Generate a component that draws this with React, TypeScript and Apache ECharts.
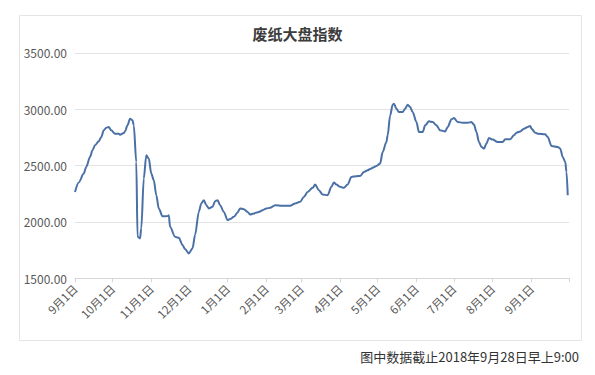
import { useEffect, useRef } from 'react';
import * as echarts from 'echarts';

const titleText = '废纸大盘指数';
const footNote = '图中数据截止2018年9月28日早上9:00';

const yTicks = [1500, 2000, 2500, 3000, 3500];

const monthTicks = [
  '2017-09-01', '2017-10-01', '2017-11-01', '2017-12-01', '2018-01-01', '2018-02-01', '2018-03-01',
  '2018-04-01', '2018-05-01', '2018-06-01', '2018-07-01', '2018-08-01', '2018-09-01', '2018-10-01',
];
const monthLabels = [
  '9月1日', '10月1日', '11月1日', '12月1日', '1月1日', '2月1日', '3月1日',
  '4月1日', '5月1日', '6月1日', '7月1日', '8月1日', '9月1日',
];

const dates = [
  '2017-09-01', '2017-09-04', '2017-09-08', '2017-09-10', '2017-09-13', '2017-09-15', '2017-09-17',
  '2017-09-20', '2017-09-22', '2017-09-24', '2017-09-26', '2017-09-28', '2017-09-30', '2017-10-03',
  '2017-10-06', '2017-10-07', '2017-10-10', '2017-10-11', '2017-10-13', '2017-10-15', '2017-10-17',
  '2017-10-18', '2017-10-20', '2017-10-21', '2017-10-23', '2017-10-24', '2017-10-26', '2017-10-28',
  '2017-10-30', '2017-11-01', '2017-11-03', '2017-11-05', '2017-11-07', '2017-11-10', '2017-11-14',
  '2017-11-15', '2017-11-16', '2017-11-20', '2017-11-23', '2017-11-26', '2017-11-28', '2017-12-01',
  '2017-12-04', '2017-12-06', '2017-12-09', '2017-12-11', '2017-12-13', '2017-12-15', '2017-12-17',
  '2017-12-20', '2017-12-22', '2017-12-24', '2017-12-26', '2017-12-29', '2018-01-01', '2018-01-03',
  '2018-01-06', '2018-01-09', '2018-01-11', '2018-01-14', '2018-01-17', '2018-01-19', '2018-01-22',
  '2018-01-26', '2018-01-29', '2018-02-01', '2018-02-04', '2018-02-08', '2018-02-14', '2018-02-20',
  '2018-02-24', '2018-02-28', '2018-03-03', '2018-03-06', '2018-03-10', '2018-03-12', '2018-03-15',
  '2018-03-18', '2018-03-22', '2018-03-25', '2018-03-27', '2018-03-29', '2018-04-01', '2018-04-04',
  '2018-04-07', '2018-04-10', '2018-04-14', '2018-04-17', '2018-04-20', '2018-04-23', '2018-04-25',
  '2018-04-28', '2018-04-30', '2018-05-03', '2018-05-05', '2018-05-08', '2018-05-09', '2018-05-11',
  '2018-05-13', '2018-05-14', '2018-05-16', '2018-05-18', '2018-05-21', '2018-05-23', '2018-05-25',
  '2018-05-27', '2018-05-29', '2018-06-01', '2018-06-03', '2018-06-06', '2018-06-08', '2018-06-11',
  '2018-06-14', '2018-06-17', '2018-06-20', '2018-06-24', '2018-06-26', '2018-06-29', '2018-07-01',
  '2018-07-04', '2018-07-08', '2018-07-12', '2018-07-15', '2018-07-17', '2018-07-19', '2018-07-21',
  '2018-07-23', '2018-07-25', '2018-07-27', '2018-07-29', '2018-08-01', '2018-08-05', '2018-08-09',
  '2018-08-11', '2018-08-15', '2018-08-18', '2018-08-20', '2018-08-23', '2018-08-26', '2018-08-29',
  '2018-08-31', '2018-09-01', '2018-09-04', '2018-09-06', '2018-09-12', '2018-09-14', '2018-09-17',
  '2018-09-22', '2018-09-24', '2018-09-26', '2018-09-28', '2018-09-29', '2018-09-30',
];

const values = [
  2265, 2350, 2429, 2488, 2576, 2635, 2680,
  2715, 2753, 2812, 2836, 2842, 2812, 2783,
  2783, 2774, 2789, 2803, 2857, 2916, 2901,
  2857, 2532, 1868, 1854, 1943, 2385, 2591,
  2562, 2429, 2370, 2237, 2120, 2050, 2052,
  2060, 1957, 1868, 1859, 1795, 1759, 1721,
  1766, 1883, 2089, 2164, 2193, 2149, 2120,
  2134, 2184, 2193, 2149, 2089, 2016, 2025,
  2045, 2084, 2120, 2113, 2089, 2066, 2075,
  2089, 2104, 2120, 2125, 2149, 2143, 2143,
  2164, 2178, 2222, 2266, 2302, 2332, 2281,
  2243, 2237, 2311, 2350, 2332, 2311, 2302,
  2332, 2399, 2405, 2408, 2443, 2458, 2470,
  2485, 2497, 2518, 2620, 2709, 2768, 2945,
  3040, 3049, 3004, 2974, 2974, 3004, 3040,
  3019, 2974, 2886, 2797, 2797, 2857, 2892,
  2886, 2857, 2812, 2803, 2842, 2910, 2921,
  2886, 2880, 2880, 2886, 2863, 2797, 2709,
  2665, 2650, 2695, 2744, 2730, 2709, 2709,
  2733, 2733, 2768, 2792, 2803, 2827, 2842,
  2851, 2827, 2792, 2783, 2777, 2753, 2674,
  2665, 2650, 2576, 2532, 2443, 2237,
];

const ORIGIN = Date.UTC(2017, 8, 1);
const toDay = (s: string) => {
  const [y, m, d] = s.split('-').map(Number);
  return Math.round((Date.UTC(y, m - 1, d) - ORIGIN) / 86400000);
};

const FONT = "'Microsoft YaHei', 'Noto Sans CJK SC', sans-serif";

export default function App() {
  const ref = useRef<HTMLDivElement>(null);
  useEffect(() => {
    if (!ref.current) return;
    const chart = echarts.init(ref.current, null, { renderer: 'svg' });
    const tickDays = monthTicks.map(toDay);
    const labelDays = tickDays.slice(0, monthLabels.length);
    const seriesData = dates.map((d, i) => [toDay(d), values[i]]);
    chart.setOption({
      animation: false,
      backgroundColor: '#ffffff',
      textStyle: { fontFamily: FONT },
      title: {
        text: titleText,
        left: 'center',
        top: 21,
        textStyle: { fontSize: 15, fontWeight: 'bold', color: '#3c3c3c', fontFamily: FONT },
      },
      graphic: [
        {
          type: 'rect',
          left: 17,
          top: 13,
          shape: { width: 562, height: 325 },
          style: { fill: 'none', stroke: '#e4e4e4', lineWidth: 1 },
          silent: true,
        },
        {
          type: 'text',
          right: 16,
          top: 350,
          style: { text: footNote, fontSize: 13, fill: '#333333', fontFamily: FONT },
        },
      ],
      grid: { left: 75, right: 26, top: 52.8, bottom: 96.7 },
      xAxis: {
        type: 'value',
        min: tickDays[0],
        max: tickDays[tickDays.length - 1],
        axisLine: { show: true, lineStyle: { color: '#d6d6d6', width: 1 } },
        axisTick: { show: true, customValues: tickDays, length: 4, lineStyle: { color: '#d6d6d6' } },
        axisLabel: {
          customValues: labelDays,
          rotate: 45,
          margin: 8,
          fontSize: 11.5,
          color: '#595959',
          fontFamily: FONT,
          formatter: (v: number) => {
            const i = labelDays.indexOf(v);
            return i >= 0 ? monthLabels[i] : '';
          },
        },
        splitLine: { show: false },
      },
      yAxis: {
        type: 'value',
        min: yTicks[0],
        max: yTicks[yTicks.length - 1],
        interval: 500,
        axisLine: { show: false },
        axisTick: { show: false },
        axisLabel: {
          fontSize: 12,
          color: '#595959',
          margin: 8,
          fontFamily: FONT,
          formatter: (v: number) => v.toFixed(2),
        },
        splitLine: { show: true, lineStyle: { color: '#e3e3e3', width: 1 } },
      },
      series: [
        {
          type: 'line',
          data: seriesData,
          showSymbol: false,
          smooth: 0.3,
          smoothMonotone: 'x',
          lineStyle: { color: '#4a70a6', width: 2 },
          itemStyle: { color: '#4a70a6' },
        },
      ],
    });
    return () => chart.dispose();
  }, []);
  return (
    <div
      ref={ref}
      style={{ position: 'absolute', left: 0, top: 0, width: 595, height: 375, background: '#fff' }}
    />
  );
}
